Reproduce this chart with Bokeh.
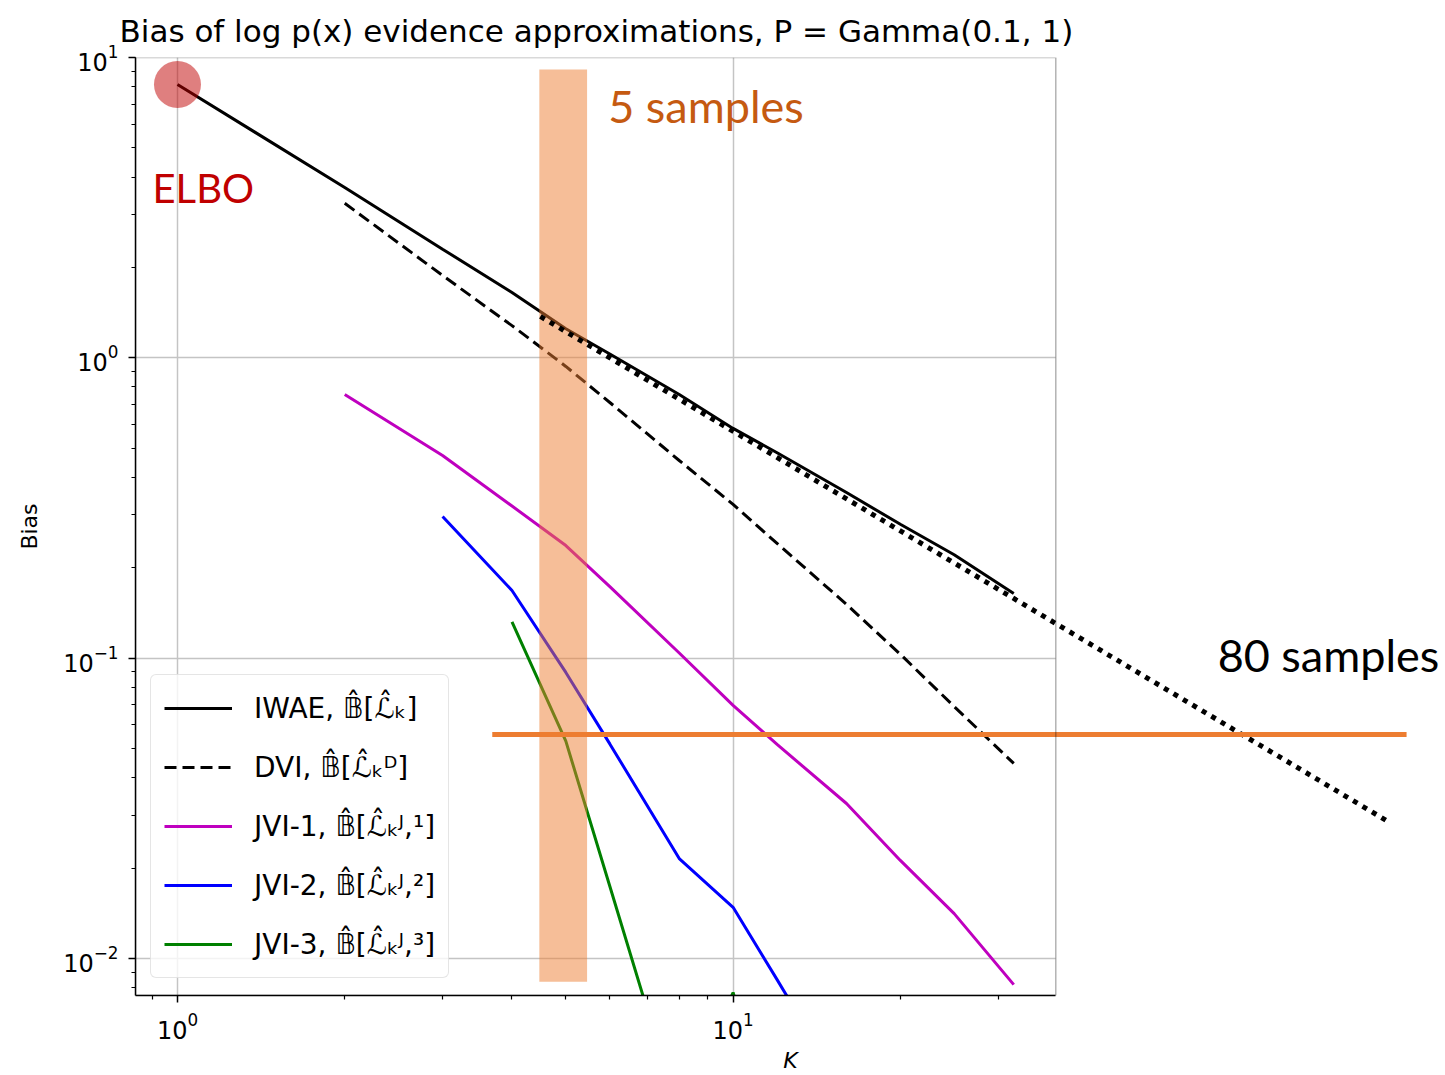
import numpy as np
from bokeh.plotting import figure
from bokeh.models import Range1d, BoxAnnotation, FixedTicker, LogTickFormatter
from bokeh.core.properties import value
from bokeh.embed import file_html
from bokeh.resources import INLINE

nan = np.nan

# ---- data ----
k = np.array([1, 2, 3, 4, 5, 6, 8, 10, 12, 16, 20, 25, 32], dtype=float)
iwae = np.array([8.13, 3.69, 2.30, 1.65, 1.25, 1.03, 0.755, 0.582, 0.483, 0.356, 0.279, 0.221, 0.164])
dvi = np.array([nan, 3.27, 1.88, 1.28, 0.936, 0.710, 0.455, 0.325, 0.241, 0.151, 0.103, 0.069, 0.0446])
jvi1 = np.array([nan, 0.755, 0.473, 0.321, 0.237, 0.173, 0.104, 0.0696, 0.0516, 0.0328, 0.0212, 0.0141, 0.00818])
jvi2 = np.array([nan, nan, 0.296, 0.168, 0.0896, 0.0518, 0.0215, 0.0148, 0.0085, 0.0035, nan, nan, nan])
jvi3 = np.array([nan, nan, nan, 0.132, 0.0529, 0.0174, 0.0030, 0.0077, 0.0025, nan, nan, nan, nan])

labels = ["IWAE, 𝔹̂[ℒ̂ₖ]", "DVI, 𝔹̂[ℒ̂ₖᴰ]", "JVI-1, 𝔹̂[ℒ̂ₖᴶ,¹]", "JVI-2, 𝔹̂[ℒ̂ₖᴶ,²]", "JVI-3, 𝔹̂[ℒ̂ₖᴶ,³]"]
title_text = "Bias of log p(x) evidence approximations, P = Gamma(0.1, 1)"

x_major_ticks = [1, 10]
x_minor_ticks = [0.9, 2, 3, 4, 5, 6, 7, 8, 9, 20, 30]

# annotations
band_k = [4.48, 5.46]
band_bias = [0.00836, 9.12]
extrap_k = [4.50, 152.0]
extrap_bias = [1.373, 0.02836]
hline_k = [3.686, 163.0]
hline_bias = [0.0557, 0.0557]
elbo_pos = (0.9016, 3.69)
five_pos = (5.96, 6.92)
eighty_pos = (74.5, 0.1021)

# axes extents
x_lo, x_axes_hi = 0.8403, 38.09
y_lo, y_hi = 0.007526, 10.0
x_canvas_hi = 10 ** (np.log10(x_axes_hi) + (1445 - 1055) / 556.0)

p = figure(width=1445, height=1075, x_axis_type="log", y_axis_type="log",
           x_range=Range1d(x_lo, x_canvas_hi), y_range=Range1d(y_lo, y_hi),
           output_backend="svg", toolbar_location=None,
           min_border_left=135, min_border_right=0, min_border_top=57, min_border_bottom=80,
           title=title_text)
p.outline_line_color = None
p.title.text_font = "DejaVu Sans"
p.title.text_font_size = "31px"
p.title.text_font_style = "normal"
p.title.text_color = "black"
p.title.align = "left"
p.title.offset = -16
p.title.standoff = 18

xt = FixedTicker(ticks=x_major_ticks, minor_ticks=x_minor_ticks)
p.xaxis.ticker = xt
p.xgrid.ticker = xt
p.xaxis.formatter = LogTickFormatter()

for ax in (p.xaxis, p.yaxis):
    ax.major_tick_in = 0
    ax.major_tick_out = 7
    ax.minor_tick_in = 0
    ax.minor_tick_out = 4
    ax.axis_line_width = 1.5
    ax.major_tick_line_width = 1.5
    ax.minor_tick_line_width = 1.2
    ax.major_label_text_font = "DejaVu Sans"
    ax.major_label_text_font_size = "24px"
    ax.major_label_text_color = "black"
    ax.axis_label_text_font = "DejaVu Sans"
    ax.axis_label_text_font_size = "22px"
    ax.axis_label_text_color = "black"
p.xaxis.bounds = (x_lo, x_axes_hi)
p.xaxis.axis_label = "K"
p.xaxis.axis_label_text_font_style = "italic"
p.xaxis.major_label_standoff = 9
p.xaxis.axis_label_standoff = 6
p.yaxis.axis_label = "Bias"
p.yaxis.axis_label_text_font_style = "normal"
p.yaxis.major_label_standoff = 10
p.yaxis.axis_label_standoff = 18

for g in (p.xgrid, p.ygrid):
    g.grid_line_color = "#c4c4c4"
    g.grid_line_width = 1.5
p.ygrid.cross_bounds = (x_lo, x_axes_hi)

# frame box of the original axes
p.add_layout(BoxAnnotation(left=x_lo, right=x_axes_hi, bottom=y_lo, top=y_hi,
                           fill_color=None, fill_alpha=0, line_color="black", line_width=1.5))

lw = 3
p.line(k, iwae, line_color="black", line_width=lw, legend_label=labels[0])
p.line(k, dvi, line_color="black", line_width=lw, line_dash="12 6", legend_label=labels[1])
p.line(k, jvi1, line_color="#BF00BF", line_width=lw, legend_label=labels[2])
p.line(k, jvi2, line_color="#0000FF", line_width=lw, legend_label=labels[3])
p.line(k, jvi3, line_color="#008000", line_width=lw, legend_label=labels[4])

# 5-sample band
p.quad(left=[band_k[0]], right=[band_k[1]], bottom=[band_bias[0]], top=[band_bias[1]],
       fill_color="#ED7D31", fill_alpha=0.5, line_color=None)
# extrapolation and target line
p.line(extrap_k, extrap_bias, line_color="black", line_width=5, line_dash="5 6", line_cap="butt")
p.line(hline_k, hline_bias, line_color="#ED7D31", line_width=5)

# ELBO marker
p.scatter(x=k[:1], y=iwae[:1], size=47, fill_color="#C00000", fill_alpha=0.5, line_color=None)

p.text(x=[elbo_pos[0]], y=[elbo_pos[1]], text=["ELBO"], text_font=value("Lato"),
       text_font_size="40px", text_color="#C00000", text_baseline="alphabetic", text_align="left")
p.text(x=[five_pos[0]], y=[five_pos[1]], text=["5 samples"], text_font=value("Lato"),
       text_font_size="45px", text_color="#C55A11", text_baseline="alphabetic", text_align="left")
p.text(x=[eighty_pos[0]], y=[eighty_pos[1]], text=["80 samples"], text_font=value("Lato"),
       text_font_size="45px", text_color="black", text_baseline="alphabetic", text_align="left")

lg = p.legend[0]
lg.location = (15, 17)
lg.margin = 0
lg.padding = 13
lg.glyph_width = 68
lg.glyph_height = 40
lg.label_height = 40
lg.spacing = 19
lg.label_standoff = 22
lg.label_text_font = "DejaVu Sans"
lg.label_text_font_size = "28px"
lg.label_text_color = "black"
lg.border_line_color = "#cccccc"
lg.border_line_width = 1.5
lg.border_radius = 6
lg.background_fill_alpha = 0.8

open("out.html", "w").write(file_html(p, INLINE))
